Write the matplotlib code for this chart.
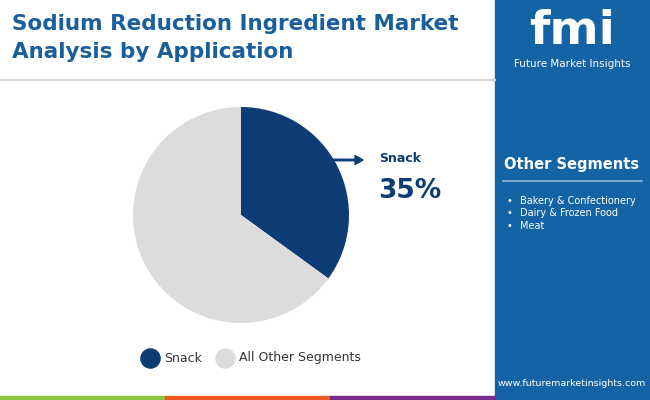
import matplotlib.pyplot as plt
from matplotlib.patches import Rectangle, FancyArrow

labels = ["Snack", "All Other Segments"]
shares = [35, 65]
colors = ["#0d3b73", "#dcdcdc"]
other_segments = ["Bakery & Confectionery", "Dairy & Frozen Food", "Meat"]

fig = plt.figure(figsize=(6.5, 4), dpi=100)
bg = fig.add_axes([0, 0, 1, 1])
bg.set_xlim(0, 650)
bg.set_ylim(400, 0)
bg.axis("off")

# right panel
bg.add_patch(Rectangle((495, 0), 155, 400, color="#1464a5", zorder=0))
bg.add_patch(Rectangle((0, 79), 495, 1, color="#d8d8d8", zorder=0))
for x0, c in [(0, "#8cc63f"), (165, "#f05a22"), (330, "#7b2d8b")]:
    bg.add_patch(Rectangle((x0, 396), 165, 4, color=c))

bg.text(12, 24, "Sodium Reduction Ingredient Market", fontsize=15.5, fontweight="bold",
        color="#1a5e9c", va="center")
bg.text(12, 52, "Analysis by Application", fontsize=15.5, fontweight="bold",
        color="#1a5e9c", va="center")

bg.text(572, 32, "fmi", fontsize=34, fontweight="bold", color="white", ha="center", va="center")
bg.text(572, 64, "Future Market Insights", fontsize=7.5, color="white", ha="center", va="center")
bg.text(572, 164, "Other Segments", fontsize=10.5, fontweight="bold", color="white",
        ha="center", va="center")
bg.plot([503, 642], [181, 181], color="#8fb6d8", lw=1.2)
for i, s in enumerate(other_segments):
    y = 201 + i * 12.5
    bg.text(507, y, "•", fontsize=7, color="white", va="center")
    bg.text(520, y, s, fontsize=7, color="white", va="center")
bg.text(572, 383, "www.futuremarketinsights.com", fontsize=6.8, color="white",
        ha="center", va="center")

# legend
for x, c, l in [(150, colors[0], labels[0]), (225, colors[1], labels[1])]:
    bg.scatter([x], [358], s=190, color=c)
    bg.text(x + 14, 358, l, fontsize=9, color="#333333", va="center")

# pie
ax = fig.add_axes([(241 - 108) / 650, 1 - (215 + 108) / 400, 216 / 650, 216 / 400])
ax.pie(shares, colors=colors, startangle=90, counterclock=False, radius=1, frame=False)
ax.set_xlim(-1, 1)
ax.set_ylim(-1, 1)
ax.set_aspect("equal")
ax.axis("off")

# annotation on top layer
top = fig.add_axes([0, 0, 1, 1])
top.set_xlim(0, 650)
top.set_ylim(400, 0)
top.axis("off")
top.add_patch(FancyArrow(333, 160, 30, 0, width=1.5, head_width=9, head_length=8,
                         color="#0d3b73", length_includes_head=True))
top.text(379, 158, "Snack", fontsize=9, fontweight="bold", color="#0d3b73", va="center")
top.text(378, 191, "35%", fontsize=19, fontweight="bold", color="#0d3b73", va="center")

fig.savefig("out.png", dpi=100)
